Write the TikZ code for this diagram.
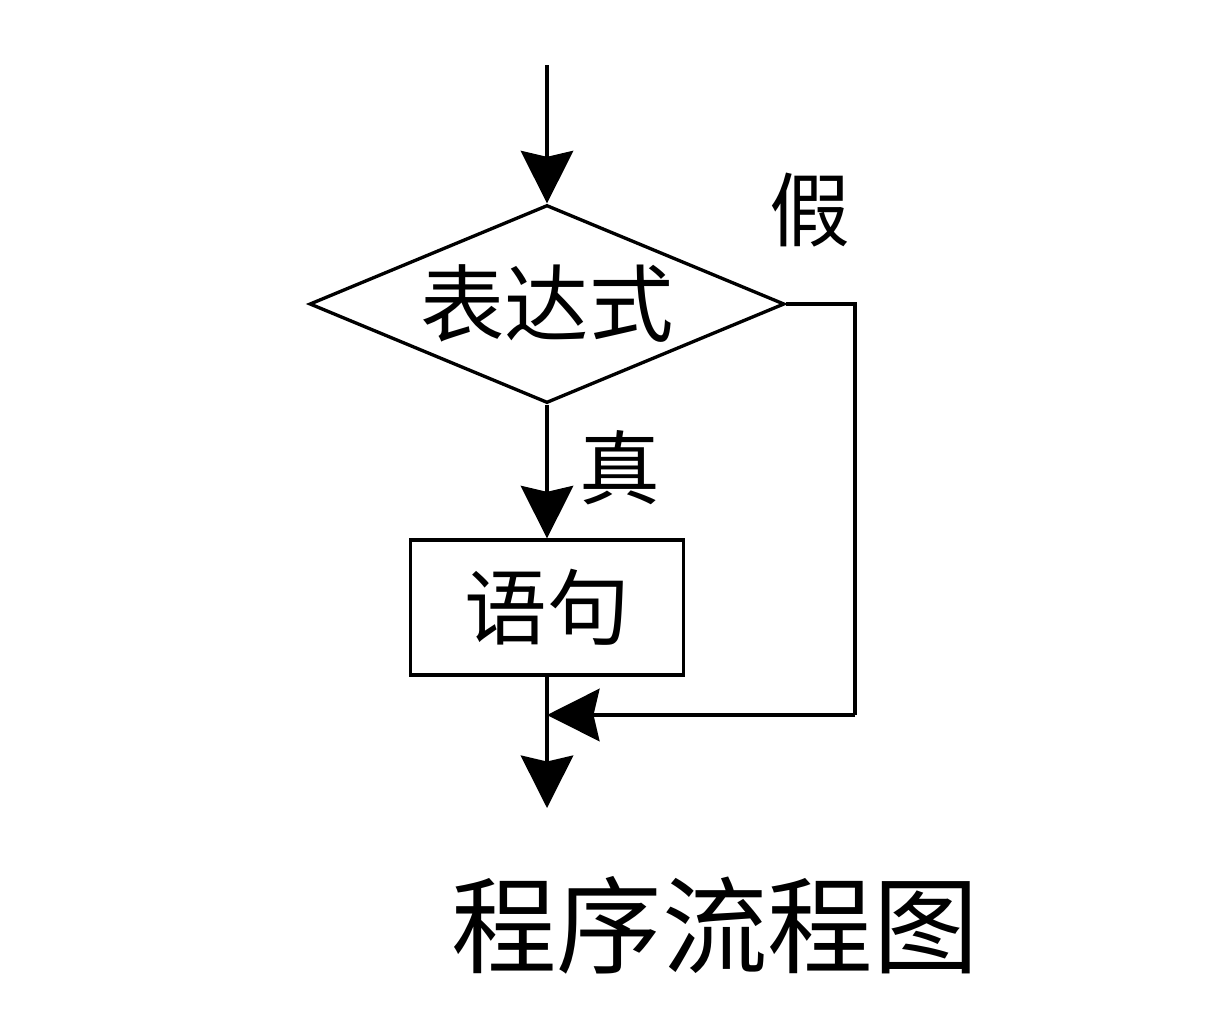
\documentclass[tikz,border=0pt]{standalone}
\usepackage{fontspec}
\newfontfamily\cjk{Noto Sans CJK SC}
\usetikzlibrary{positioning,calc}
\usetikzlibrary{arrows.meta,shapes.geometric}
\tikzset{
  flow/.style={draw=black,line width=1.9pt},
  arr/.style={flow,-{Stealth[length=1.05cm,width=1.05cm,inset=0.12cm]}},
  cond/.style={diamond,draw=black,line width=1.9pt,aspect=2.4,inner sep=0pt,
    minimum width=9.5cm,minimum height=3.96cm,font=\cjk\fontsize{48}{54}\selectfont},
  stmt/.style={rectangle,draw=black,line width=1.9pt,minimum width=5.46cm,
    minimum height=2.7cm,font=\cjk\fontsize{47}{54}\selectfont},
  lab/.style={inner sep=0pt,font=\cjk\fontsize{46}{52}\selectfont},
}
\begin{document}
\begin{tikzpicture}
\useasboundingbox (0,0) rectangle (24.5,-20.6);
\coordinate (start) at (10.94,-1.3);
\node[cond] (expr) at (10.94,-6.08) {表达式};
\node[stmt] (stm) at (10.94,-12.15) {语句};
\coordinate (corner) at (17.1,-6.08);
\coordinate (back) at (17.1,-14.3);
\coordinate (join) at (10.94,-14.3);
\coordinate (end) at (10.94,-16.16);
\draw[arr] (start) -- (expr.north);
\draw[arr] (expr.south) -- (stm.north);
\draw[flow] (stm.south) -- (join);
\draw[arr] (join) -- (end);
\draw[flow] (expr.east) -- (corner) -- (back);
\draw[arr] (back) -- (join);
\node[lab] (no) at (16.2,-4.2) {假};
\node[lab] (yes) at (12.4,-9.36) {真};
\node[lab,font=\cjk\fontsize{60}{66}\selectfont] (title) at (14.3,-18.5) {程序流程图};
\end{tikzpicture}
\end{document}
